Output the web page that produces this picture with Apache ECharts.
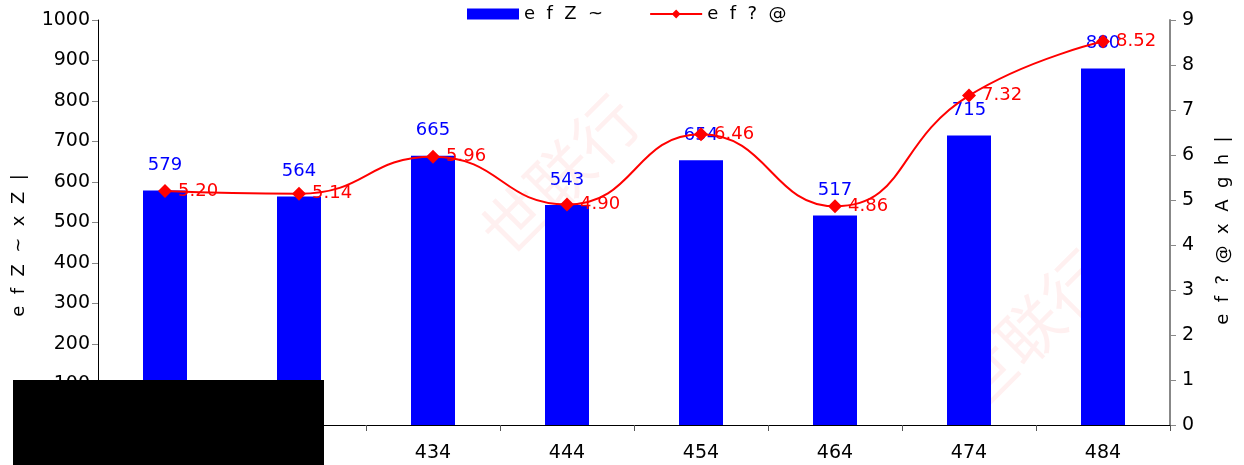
<!DOCTYPE html>
<html><head><meta charset="utf-8">
<script src="https://cdn.jsdelivr.net/npm/echarts@6/dist/echarts.min.js"></script>
<style>html,body{margin:0;padding:0;background:#fff}#c{width:1244px;height:465px}</style>
</head><body><div id="c"></div>
<script>
var categories = ['414','424','434','444','454','464','474','484'];
var barValues = [579, 564, 665, 543, 654, 517, 715, 880];
var lineValues = [5.20, 5.14, 5.96, 4.90, 6.46, 4.86, 7.32, 8.52];
var barName = 'e  f  Z  ~';
var lineName = 'e  f  ?  @';
var leftAxisName = 'e  f  Z  ~  x  Z  |';
var rightAxisName = 'e  f  ?  @  x  A  g  h  |';
var watermark = '世联行';

var FONT = 'DejaVu Sans';
var chart = echarts.init(document.getElementById('c'));
chart.setOption({
  animation: false,
  textStyle: {fontFamily: FONT},
  legend: {
    top: 0, left: 462, itemGap: 46, itemWidth: 52, itemHeight: 11,
    textStyle: {fontSize: 18, color: '#000', fontFamily: FONT},
    data: [{name: barName, icon: 'rect'}, {name: lineName}]
  },
  grid: {left: 98, right: 74, top: 20, bottom: 40, containLabel: false},
  xAxis: {
    type: 'category', data: categories,
    axisLine: {lineStyle: {color: '#000'}},
    axisTick: {show: true, length: 6, lineStyle: {color: '#555'}},
    axisLabel: {fontSize: 19, color: '#000', margin: 19}
  },
  yAxis: [
    {type: 'value', min: 0, max: 1000, interval: 100,
     name: leftAxisName, nameLocation: 'middle', nameGap: 70, nameRotate: 90,
     nameTextStyle: {fontSize: 18, color: '#000', padding: [0, 46, 0, 0]},
     axisLine: {show: true, lineStyle: {color: '#000'}},
     axisTick: {show: true, length: 6, lineStyle: {color: '#888'}},
     axisLabel: {fontSize: 19, color: '#000', margin: 8, formatter: function(v){ return String(v); }},
     splitLine: {show: false}},
    {type: 'value', min: 0, max: 9, interval: 1, position: 'right',
     name: rightAxisName, nameLocation: 'middle', nameGap: 44, nameRotate: 90,
     nameTextStyle: {fontSize: 18, color: '#000', padding: [0, 16, 0, 0]},
     axisLine: {show: true, lineStyle: {color: '#888', width: 2}},
     axisTick: {show: true, length: 6, lineStyle: {color: '#888'}},
     axisLabel: {fontSize: 19, color: '#000', margin: 12},
     splitLine: {show: false}}
  ],
  series: [
    {name: barName, type: 'bar', data: barValues, barWidth: 44,
     itemStyle: {color: '#0000FF'},
     label: {show: true, position: 'top', distance: 16, fontSize: 18, color: '#0000FF'}},
    {name: lineName, type: 'line', yAxisIndex: 1, data: lineValues, smooth: true,
     symbol: 'diamond', symbolSize: 14,
     lineStyle: {color: '#FF0000', width: 2}, itemStyle: {color: '#FF0000'},
     label: {show: true, position: 'right', distance: 6, fontSize: 18, color: '#FF0000',
             formatter: function(p){ return p.value.toFixed(2); }}}
  ],
  graphic: [
    {type: 'text', x: 560, y: 175, rotation: Math.PI / 4, z: -1,
     style: {text: watermark, fontSize: 64, fontFamily: 'Noto Sans CJK SC', fill: 'rgba(255,0,0,0.06)', align: 'center', verticalAlign: 'middle'}},
    {type: 'text', x: 1030, y: 330, rotation: Math.PI / 4, z: -1,
     style: {text: watermark, fontSize: 64, fontFamily: 'Noto Sans CJK SC', fill: 'rgba(255,0,0,0.06)', align: 'center', verticalAlign: 'middle'}},
    {type: 'rect', left: 13, top: 380, shape: {width: 311, height: 85}, style: {fill: '#000'}, z: 100}
  ]
});
</script></body></html>
